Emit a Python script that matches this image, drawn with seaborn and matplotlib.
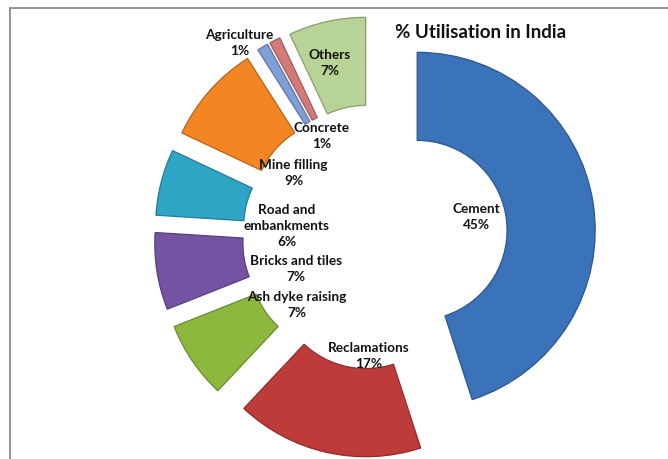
import numpy as np
import matplotlib
matplotlib.use("Agg")
import matplotlib.pyplot as plt
import seaborn as sns

sns.set_theme(style="white")
plt.rcParams['font.family'] = ['Lato', 'DejaVu Sans']

# Data
categories = ["Cement", "Reclamations", "Ash dyke raising", "Bricks and tiles",
              "Road and\nembankments", "Mine filling", "Agriculture", "Concrete", "Others"]
values = [45, 17, 7, 7, 6, 9, 1, 1, 7]
colors = ["#3B73BA", "#BD3B38", "#8DB83E", "#7553A4", "#2FA5C5",
          "#F38522", "#7F9FD6", "#D47A78", "#B7D395"]
title = "% Utilisation in India"

# Layout: label radial distance and angle offset (degrees, clockwise) relative to wedge mid-angle
label_r = [0.58, 0.67, 0.58, 0.48, 0.50, 0.58, 1.33, 0.64, 1.01]
label_dtheta = [-2, -9.6, -6.9, -13, -7.4, -3.4, -4.4, -1, -1.9]

W, H = 668, 459
fig = plt.figure(figsize=(W / 100, H / 100), dpi=100)
ax = fig.add_axes([0, 0, 1, 1])

explode = [0.24] * len(values)
wedges, _ = ax.pie(values, colors=colors, startangle=90, counterclock=False,
                   explode=explode, radius=1.0,
                   wedgeprops=dict(width=0.495, linewidth=0.9))
for w, c in zip(wedges, colors):
    rgb = np.array(matplotlib.colors.to_rgb(c)) * 0.75
    w.set_edgecolor(rgb)

# place axes so that center is at pixel (375, 237) and 1 unit = 178 px
cx, cy, scale = 375, 237, 178
ax.set_aspect('auto')
ax.set_xlim(-cx / scale, (W - cx) / scale)
ax.set_ylim(-(H - cy) / scale, cy / scale)
ax.axis('off')

total = sum(values)
for i, (w, lab, v) in enumerate(zip(wedges, categories, values)):
    mid = 0.5 * (w.theta1 + w.theta2) - label_dtheta[i]
    x = label_r[i] * np.cos(np.deg2rad(mid))
    y = label_r[i] * np.sin(np.deg2rad(mid))
    ax.text(x, y, f"{lab}\n{round(100 * v / total)}%", ha='center', va='center',
            fontsize=9.8, fontweight='bold', color='#111111', linespacing=1.4)

fig.text(481 / W, 1 - 32 / H, title, ha='center', va='center',
         fontsize=13.5, fontweight='bold', color='#111111')

# chart frame
fig.add_artist(plt.Line2D([10 / W, 1], [1 - 8 / H, 1 - 8 / H], color='#8a8a8a', lw=1.3,
                          transform=fig.transFigure))
fig.add_artist(plt.Line2D([10 / W, 10 / W], [0, 1 - 8 / H], color='#8a8a8a', lw=1.3,
                          transform=fig.transFigure))

fig.savefig("out.png", dpi=100, facecolor='white')
